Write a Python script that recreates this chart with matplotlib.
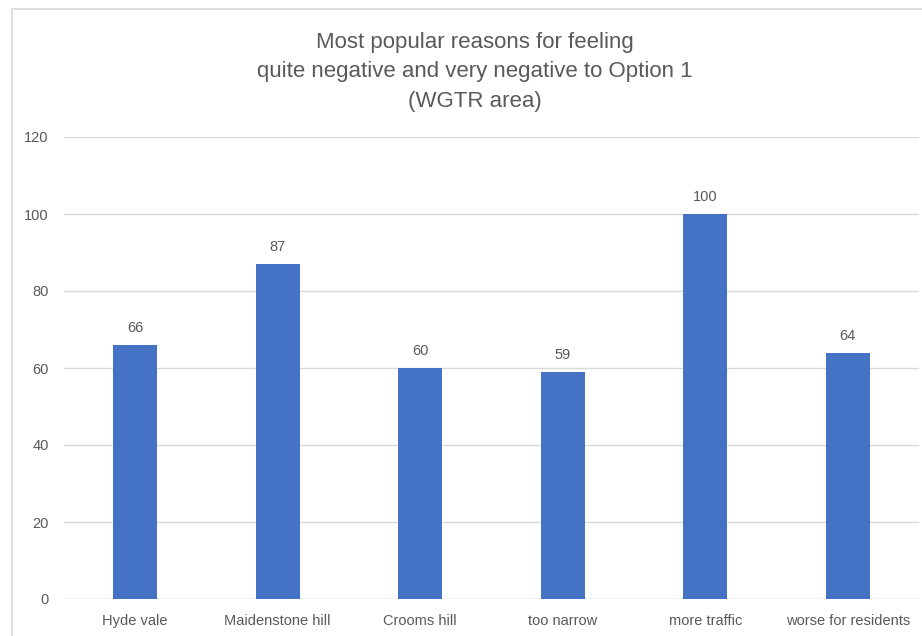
import matplotlib
matplotlib.use("Agg")
import matplotlib.pyplot as plt
from matplotlib.patches import Rectangle

categories = ["Hyde vale", "Maidenstone hill", "Crooms hill", "too narrow",
              "more traffic", "worse for residents"]
counts = [66, 87, 60, 59, 100, 64]
y_ticks = [0, 20, 40, 60, 80, 100, 120]

BAR = "#4472C4"
TEXT = "#595959"
GRID = "#D9D9D9"

plt.rcParams["font.family"] = ["Liberation Sans", "DejaVu Sans"]

fig = plt.figure(figsize=(9.22, 6.36), dpi=100)
W, H = 922, 636
ax = fig.add_axes([64 / W, 37 / H, (919 - 64) / W, (599 - 137) / H])

# chart frame, cut off on the right and bottom
fig.patches.append(Rectangle((12 / W, -0.1), 2, 1.1 - 9 / H, transform=fig.transFigure,
                             fill=False, edgecolor=GRID, linewidth=1.2))

x = list(range(len(categories)))
bars = ax.bar(x, counts, width=0.31, color=BAR, zorder=3)
for b, v in zip(bars, counts):
    ax.annotate(str(v), (b.get_x() + b.get_width() / 2, v), xytext=(0, 7),
                textcoords="offset points", ha="center", va="bottom",
                fontsize=10.5, color=TEXT)

ax.set_xlim(-0.5, len(categories) - 0.5)
ax.set_ylim(0, 120)
ax.set_yticks(y_ticks)
ax.set_xticks(x)
ax.set_xticklabels(categories)
ax.yaxis.grid(True, color=GRID, linewidth=1, zorder=0)
for s in ax.spines.values():
    s.set_visible(False)
ax.axhline(0, color=GRID, linewidth=1, zorder=2)
ax.tick_params(axis="both", length=0, labelsize=10.5, labelcolor=TEXT)
ax.tick_params(axis="x", pad=11)
ax.tick_params(axis="y", pad=11)

fig.text(475 / W, 1 - 72 / H,
         "Most popular reasons for feeling\nquite negative and very negative to Option 1\n(WGTR area)",
         ha="center", va="center", fontsize=16, color=TEXT, linespacing=1.55)

fig.savefig("out.png", dpi=100)
